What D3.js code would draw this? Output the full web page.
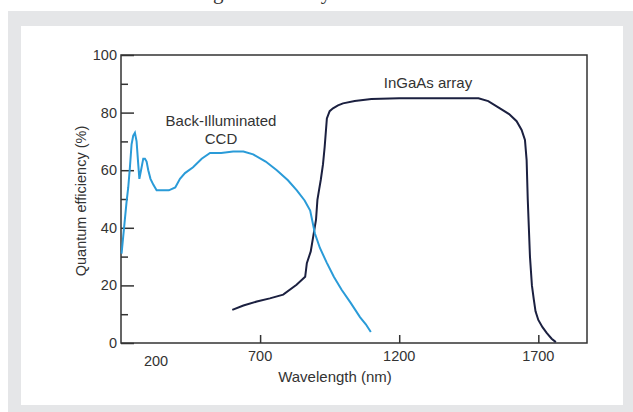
<!DOCTYPE html>
<html>
<head>
<meta charset="utf-8">
<script src="https://cdn.jsdelivr.net/npm/d3@7"></script>
<style>
    body { margin: 0; background: #fff; }
    svg { display: block; }
    text { font-family: "Liberation Sans", Arial, sans-serif; fill: #333; }
</style>
</head>
<body>
<div id="qe-chart"></div>
<script>
// Back-Illuminated CCD curve (nm, %)
var ccdWavelength = [202, 208, 214, 220, 226, 232, 238, 244, 250, 256, 262, 266, 272, 280, 286, 292, 298, 306, 316, 328, 340, 352, 372, 395, 412, 430, 459, 490, 520, 560, 603, 640, 675, 720, 760, 800, 832, 860, 880, 897, 915, 939, 965, 993, 1025, 1059, 1080, 1098];
var ccdQE = [31, 37, 43, 49, 54, 61, 69, 72, 73, 70, 62, 57, 60, 64, 64, 63, 60, 57, 55, 53, 53, 53, 53, 54, 57, 59, 61, 64, 66, 66, 66.5, 66.5, 65.5, 63, 60, 56.5, 53, 49.5, 46, 38, 33, 28, 23, 18.5, 14, 9, 6.5, 3.8];

// InGaAs array curve (nm, %)
var ingaasWavelength = [600, 640, 688, 735, 783, 831, 862, 868, 882, 891, 901, 906, 913, 918, 926, 932, 940, 950, 962, 980, 998, 1040, 1100, 1200, 1300, 1400, 1485, 1520, 1562, 1595, 1622, 1640, 1652, 1658, 1662, 1666, 1670, 1677, 1684, 1690, 1700, 1715, 1730, 1748, 1763];
var ingaasQE = [11.5, 13, 14.4, 15.5, 16.8, 20.2, 23, 27.7, 31.8, 37, 42.8, 49.7, 53.8, 56.6, 62, 68, 78, 80.5, 81.5, 82.5, 83.2, 84, 84.7, 85, 85, 85, 85, 84, 81.5, 79.5, 77, 74, 70.5, 63.5, 50, 40, 30, 20, 15, 11, 8, 5.5, 3.5, 1.5, 0.3];

var xTickValues = [200, 700, 1200, 1700];
var yTickValues = [0, 20, 40, 60, 80, 100];
var yMinorTicks = [10, 30, 50, 70, 90];

var width = 633, height = 412,
    margin = {top: 55, right: 46, bottom: 69, left: 121},
    plotW = width - margin.left - margin.right,
    plotH = 343 - margin.top;

var svg = d3.select("#qe-chart").append("svg")
    .attr("width", width)
    .attr("height", height);

// page background, grey frame and white panel
svg.append("rect").attr("x", 8).attr("y", 11).attr("width", width - 8).attr("height", height - 11).attr("fill", "#e5e6e8");
svg.append("rect").attr("x", 21).attr("y", 26).attr("width", 602).attr("height", 379).attr("fill", "#fff");

// caption above the panel, only its descenders show in the crop
svg.append("text")
    .attr("x", 140).attr("y", -1)
    .style("font-family", "'Liberation Serif', 'DejaVu Serif', serif")
    .style("font-size", "21px")
    .text("Wavelength sensitivity");

var xScale = d3.scaleLinear().domain([200, 1875]).range([0, plotW]),
    yScale = d3.scaleLinear().domain([0, 100]).range([plotH, 0]);

var g = svg.append("g")
    .attr("transform", "translate(" + margin.left + "," + margin.top + ")");

// plot frame
g.append("rect")
    .attr("x", 0).attr("y", 0)
    .attr("width", plotW).attr("height", plotH)
    .attr("fill", "none")
    .attr("stroke", "#333")
    .attr("stroke-width", 1.5);

// y axis: ticks point into the plot
var yAxis = d3.axisRight(yScale).tickValues(yTickValues).tickSize(13).tickFormat("");
g.append("g").attr("class", "axis axis--y").call(yAxis)
    .call(function (s) { s.select(".domain").remove(); })
    .selectAll("line").attr("stroke", "#333").attr("stroke-width", 1.5);

g.append("g").attr("class", "axis axis--y-minor")
    .call(d3.axisRight(yScale).tickValues(yMinorTicks).tickSize(7).tickFormat(""))
    .call(function (s) { s.select(".domain").remove(); })
    .selectAll("line").attr("stroke", "#333").attr("stroke-width", 1.5);

g.selectAll(".ylabel")
    .data(yTickValues)
    .enter().append("text")
    .attr("class", "ylabel")
    .attr("x", -4)
    .attr("y", function (d) { return yScale(d) + 5; })
    .attr("text-anchor", "end")
    .style("font-size", "14.5px")
    .text(function (d) { return d; });

// x axis: ticks point up
var xAxis = d3.axisTop(xScale).tickValues(xTickValues.slice(1)).tickSize(8).tickFormat("");
g.append("g").attr("class", "axis axis--x")
    .attr("transform", "translate(0," + plotH + ")")
    .call(xAxis)
    .call(function (s) { s.select(".domain").remove(); })
    .selectAll("line").attr("stroke", "#333").attr("stroke-width", 1.5);

g.selectAll(".xlabel")
    .data(xTickValues)
    .enter().append("text")
    .attr("class", "xlabel")
    .attr("x", function (d) { return d === 200 ? xScale(d) + 35 : xScale(d); })
    .attr("y", function (d) { return d === 200 ? plotH + 23 : plotH + 18; })
    .attr("text-anchor", "middle")
    .style("font-size", "14.5px")
    .text(function (d) { return d; });

// axis titles
svg.append("text")
    .attr("x", 335).attr("y", 382)
    .attr("text-anchor", "middle")
    .style("font-size", "15px")
    .text("Wavelength (nm)");

svg.append("text")
    .attr("transform", "translate(86,201) rotate(-90)")
    .attr("text-anchor", "middle")
    .style("font-size", "14.5px")
    .text("Quantum efficiency (%)");

// curves
var line = d3.line()
    .x(function (d) { return xScale(d[0]); })
    .y(function (d) { return yScale(d[1]); });

var ccd = ccdWavelength.map(function (w, i) { return [w, ccdQE[i]]; });
var ingaas = ingaasWavelength.map(function (w, i) { return [w, ingaasQE[i]]; });

g.append("path")
    .datum(ingaas)
    .attr("d", line)
    .attr("fill", "none")
    .attr("stroke", "#1b2040")
    .attr("stroke-width", 2);

g.append("path")
    .datum(ccd)
    .attr("d", line)
    .attr("fill", "none")
    .attr("stroke", "#2a9bd8")
    .attr("stroke-width", 2);

// curve labels
svg.append("text").attr("x", 221).attr("y", 126).attr("text-anchor", "middle")
    .style("font-size", "15px").text("Back-Illuminated");
svg.append("text").attr("x", 221).attr("y", 144).attr("text-anchor", "middle")
    .style("font-size", "15px").text("CCD");
svg.append("text").attr("x", 428).attr("y", 88).attr("text-anchor", "middle")
    .style("font-size", "15px").text("InGaAs array");
</script>
</body>
</html>
